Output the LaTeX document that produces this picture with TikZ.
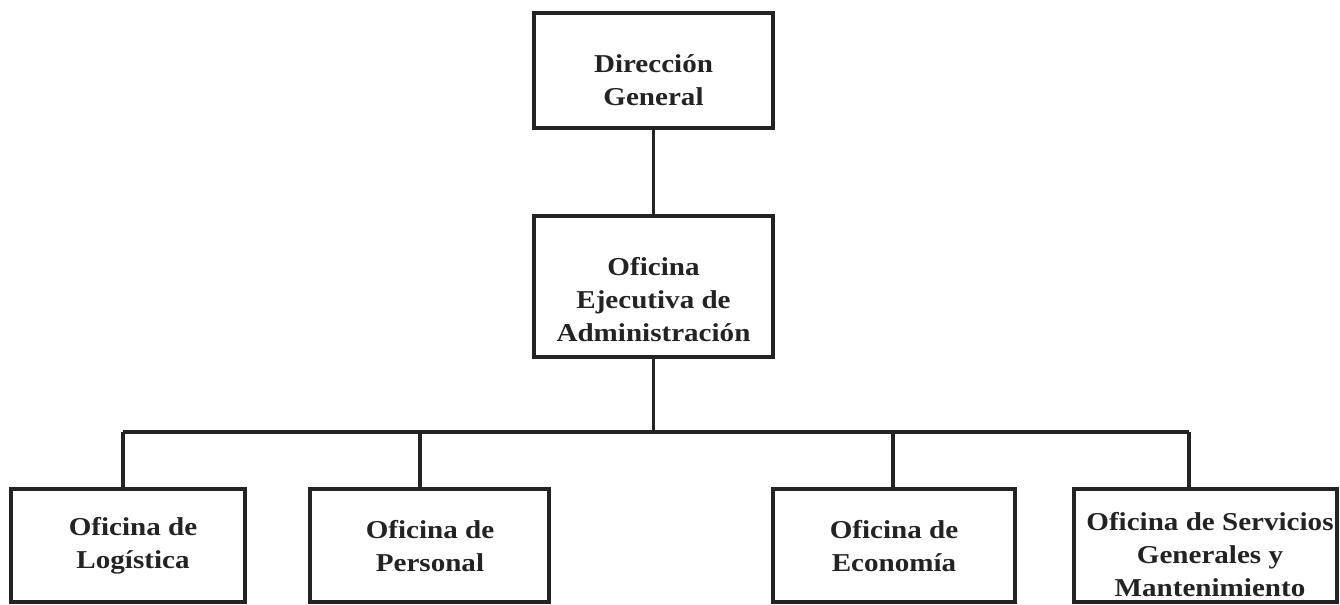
\documentclass[tikz,border=0pt]{standalone}
\usepackage{fontspec}
\setmainfont{Liberation Serif}[FakeStretch=1.13]
\usetikzlibrary{fit}
\definecolor{ink}{HTML}{232323}
\begin{document}
\begin{tikzpicture}[x=0.75pt,y=-0.75pt,
  box/.style={draw=ink,line width=2.9pt,inner sep=0pt,fill=white},
  txt/.style={text=ink,align=center,font=\fontsize{19.3}{24.75}\selectfont\bfseries,inner sep=0pt},
  conn/.style={draw=ink,line width=2.6pt}]
\useasboundingbox[fill=white] (0,0) rectangle (1340,605);
% boxes
\node[box,fit={(534,13) (773,128)}] (dg) {};
\node[box,fit={(534,216) (773,357)}] (oe) {};
\node[box,fit={(11,489) (245,602)}] (lo) {};
\node[box,fit={(310,489) (549,602)}] (pe) {};
\node[box,fit={(773,489) (1015,602)}] (ec) {};
\node[box,fit={(1074,489) (1337,602)}] (sg) {};
% texts
\node[txt] (dgt) at (653.5,80) {Dirección\\General};
\node[txt] (oet) at (653.5,300) {Oficina\\Ejecutiva de\\Administración};
\node[txt] (lot) at (133,546) {Oficina de\\Logística};
\node[txt] (pet) at (430,546) {Oficina de\\Personal};
\node[txt] (ect) at (894,546) {Oficina de\\Economía};
\node[txt] (sgt) at (1210,555) {Oficina de Servicios\\Generales y\\Mantenimiento};
% connectors
\coordinate (jm) at (oe.south |- 0,432);
\coordinate (jl) at (123,432);
\coordinate (jp) at (420,432);
\coordinate (je) at (893,432);
\coordinate (jr) at (1189,432);
\draw[conn] (dg.south) -- (oe.north);
\draw[conn] (oe.south) -- (jm);
\draw[conn] (jl) -- (jr);
\draw[conn] (jl) -- (jl |- lo.north);
\draw[conn] (jp) -- (jp |- pe.north);
\draw[conn] (je) -- (je |- ec.north);
\draw[conn] (jr) -- (jr |- sg.north);
\end{tikzpicture}
\end{document}
